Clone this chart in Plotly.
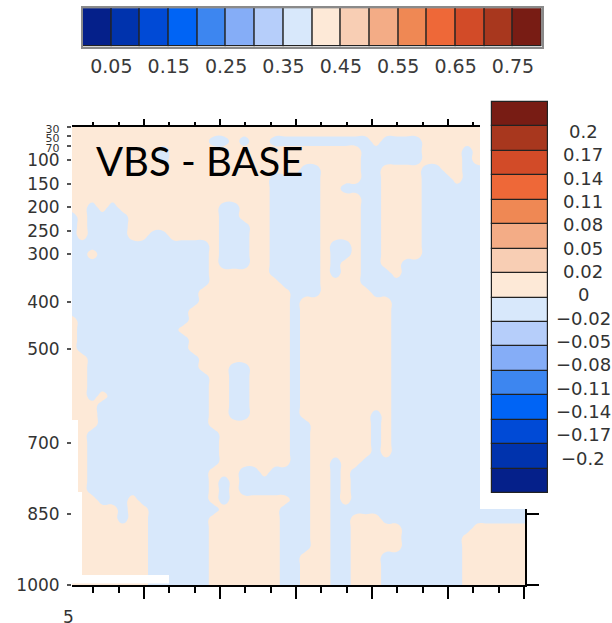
import numpy as np
import plotly.graph_objects as go

# Time axis of the cross-section (days) and pressure levels (hPa)
days = np.round(-2.84 + 0.4 * np.arange(46), 2)
pressure = [30] + list(range(40, 1001, 20))

# Sign of the VBS - BASE difference on each pressure level (top to bottom),
# run-length coded: "14+ 2-" = 14 positive columns then 2 negative ones.
sign_rows = [
    "46+",
    "46+",
    "14+ 2- 1+ 1- 2+ 10- 1+ 4- 11+",
    "9+ 1- 19+ 6- 4+ 1- 6+",
    "9+ 1- 19+ 6- 4+ 1- 6+",
    "23+ 2- 4+ 2- 4+ 2- 2+ 7-",
    "20+ 5- 4+ 2- 4+ 3- 1+ 7-",
    "20+ 5- 2+ 4- 4+ 11-",
    "20+ 5- 4+ 2- 4+ 11-",
    "2+ 1- 1+ 1- 10+ 2- 3+ 5- 4+ 2- 4+ 11-",
    "1- 1+ 4- 9+ 2- 3+ 5- 4+ 2- 4+ 11-",
    "1- 1+ 4- 9+ 3- 2+ 5- 4+ 2- 4+ 11-",
    "1- 1+ 4- 2+ 2- 5+ 3- 2+ 5- 4+ 2- 4+ 11-",
    "14- 1+ 3- 2+ 5- 1+ 2- 1+ 2- 4+ 11-",
    "2- 1+ 11- 1+ 3- 2+ 5- 1+ 2- 1+ 2- 4+ 11-",
    "14- 1+ 3- 2+ 5- 1+ 1- 2+ 2- 2+ 13-",
    "14- 6+ 5- 1+ 1- 2+ 3- 1+ 13-",
    "14- 7+ 4- 4+ 17-",
    "13- 9+ 3- 5+ 16-",
    "13- 9+ 1- 9+ 14-",
    "12- 10+ 1- 9+ 14-",
    "1+ 11- 10+ 1- 9+ 14-",
    "1+ 10- 11+ 1- 9+ 14-",
    "1+ 11- 10+ 1- 9+ 14-",
    "1+ 11- 10+ 1- 9+ 14-",
    "2+ 11- 9+ 1- 9+ 14-",
    "2+ 11- 3+ 2- 4+ 1- 9+ 14-",
    "2+ 12- 2+ 2- 4+ 1- 9+ 14-",
    "2+ 12- 2+ 2- 4+ 1- 9+ 14-",
    "2+ 1- 1+ 10- 2+ 2- 4+ 1- 9+ 14-",
    "3+ 11- 2+ 2- 4+ 1- 9+ 14-",
    "3+ 11- 2+ 2- 4+ 1- 7+ 1- 1+ 14-",
    "3+ 11- 8+ 2- 6+ 1- 1+ 14-",
    "2+ 13- 7+ 2- 6+ 1- 1+ 14-",
    "2+ 13- 7+ 2- 6+ 1- 1+ 14-",
    "2+ 13- 7+ 2- 6+ 1- 1+ 14-",
    "2+ 13- 7+ 2- 2+ 1- 2+ 17-",
    "2+ 12- 3+ 2- 1+ 4- 2+ 1- 1+ 18-",
    "2+ 12- 1+ 1- 1+ 7- 2+ 1- 1+ 18-",
    "2+ 12- 1+ 1- 1+ 7- 2+ 1- 1+ 18-",
    "3+ 3- 1+ 7- 1+ 1- 6+ 2- 2+ 1- 1+ 18-",
    "5+ 1- 2+ 7- 6+ 3- 2+ 20-",
    "5+ 1- 2+ 6- 7+ 3- 2+ 2- 3+ 15-",
    "8+ 6- 7+ 3- 2+ 2- 5+ 7- 6+",
    "8+ 6- 7+ 3- 2+ 2- 5+ 6- 7+",
    "8+ 6- 7+ 3- 2+ 2- 5+ 6- 7+",
    "8+ 6- 7+ 2- 3+ 2- 3+ 8- 7+",
    "8+ 6- 7+ 2- 3+ 2- 3+ 8- 7+",
    "8+ 6- 7+ 2- 3+ 2- 3+ 8- 7+",
    "8+ 6- 7+ 2- 3+ 2- 3+ 8- 7+",
]
diff_magnitude = 0.01


def expand(row):
    vals = []
    for tok in row.split():
        n, s = int(tok[:-1]), tok[-1]
        vals += [diff_magnitude if s == "+" else -diff_magnitude] * n
    assert len(vals) == len(days), row
    return vals


diff = np.array([expand(r) for r in sign_rows])
assert diff.shape[0] == len(pressure)

# 16-colour blue-white-red palette (low to high)
palette = ["#05208a", "#0033ad", "#004ad6", "#0064f5", "#3d86f0", "#85adf7",
           "#b6cefa", "#d8e8fb", "#fde9d7", "#f8ceb4", "#f3ac86", "#ef8854",
           "#ee6838", "#d24b28", "#a8371e", "#781c14"]

# Horizontal colour bar (absolute field)
top_edges = [0.0, 0.05, 0.10, 0.15, 0.20, 0.25, 0.30, 0.35, 0.40,
             0.45, 0.50, 0.55, 0.60, 0.65, 0.70, 0.75, 0.80]
top_ticks = [0.05, 0.15, 0.25, 0.35, 0.45, 0.55, 0.65, 0.75]

# Vertical colour bar (difference field), labels from top to bottom
diff_labels = ["0.2", "0.17", "0.14", "0.11", "0.08", "0.05", "0.02", "0",
               "\u22120.02", "\u22120.05", "\u22120.08", "\u22120.11",
               "\u22120.14", "\u22120.17", "\u22120.2"]

pressure_ticks = [30, 50, 70, 100, 150, 200, 250, 300, 400, 500, 700, 850, 1000]
crowded_ticks = {30, 50, 70}
pressure_text = [f"<span style='font-size:11px'>{p}</span>" if p in crowded_ticks
                 else str(p) for p in pressure_ticks]

W, H = 612, 623


def px_x(v):
    return v / W


def px_y(v):
    return (H - v) / H


fig = go.Figure()

fig.add_trace(go.Contour(
    x=days, y=pressure, z=diff,
    zmin=-0.02, zmax=0.02,
    colorscale=[[0, palette[7]], [0.5, palette[7]], [0.5, palette[8]], [1, palette[8]]],
    contours=dict(start=0, end=0, size=0.01, coloring="fill", showlines=False),
    line=dict(width=0, smoothing=1.3),
    showscale=False, hoverinfo="skip",
))

# overlay axes carrying the top and right tick marks
fig.add_trace(go.Scatter(x=[], y=[], xaxis="x4", yaxis="y", showlegend=False))
fig.add_trace(go.Scatter(x=[], y=[], xaxis="x", yaxis="y4", showlegend=False))

# vertical colour bar as stacked boxes
fig.add_trace(go.Bar(
    x=[0.5] * 16, y=[1] * 16, base=list(range(16)), width=1,
    marker=dict(color=palette, line=dict(color="#222222", width=1.2)),
    xaxis="x2", yaxis="y2", hoverinfo="skip", showlegend=False,
))

# horizontal colour bar
fig.add_trace(go.Bar(
    y=[0] * 16, x=[top_edges[i + 1] - top_edges[i] for i in range(16)],
    base=top_edges[:-1], width=1, orientation="h",
    marker=dict(color=palette, line=dict(color="#222222", width=1.2)),
    xaxis="x3", yaxis="y3", hoverinfo="skip", showlegend=False,
))

label_font = dict(family="DejaVu Sans", size=17, color="#333333")

fig.update_layout(
    width=W, height=H, margin=dict(l=0, r=0, t=0, b=0, autoexpand=False),
    paper_bgcolor="white", plot_bgcolor="white", showlegend=False, bargap=0,
    xaxis=dict(domain=[px_x(72), px_x(525)], anchor="y", range=[-2.84, 15.04],
               tick0=0, dtick=3, ticks="outside", ticklen=12, tickwidth=2,
               tickcolor="black", showticklabels=False, showline=True,
               linewidth=2, linecolor="black", showgrid=False, zeroline=False,
               automargin=False,
               minor=dict(tick0=0, dtick=1, ticks="outside", ticklen=6,
                          tickwidth=1.5, tickcolor="black", showgrid=False)),
    xaxis4=dict(overlaying="x", side="top", anchor="y", range=[-2.84, 15.04],
                tick0=0, dtick=3, ticks="outside", ticklen=6, tickwidth=2,
                tickcolor="black", showticklabels=False, showline=True,
                linewidth=2, linecolor="black", showgrid=False, zeroline=False,
                automargin=False,
                minor=dict(tick0=0, dtick=1, ticks="outside", ticklen=3,
                           tickwidth=1.5, tickcolor="black", showgrid=False)),
    yaxis=dict(domain=[px_y(585), px_y(127)], anchor="x", range=[1000, 30],
               tickvals=pressure_ticks, ticktext=pressure_text,
               ticks="outside", ticklen=4, tickwidth=2, tickcolor="#555555",
               tickfont=label_font, ticklabelstandoff=4, automargin=False,
               showline=False, showgrid=False, zeroline=False),
    yaxis4=dict(overlaying="y", side="right", anchor="x", range=[1000, 30],
                tickvals=pressure_ticks, ticks="outside", ticklen=12, tickwidth=2,
                tickcolor="black", showticklabels=False, showline=True,
                linewidth=2, linecolor="black", showgrid=False, zeroline=False,
                automargin=False),
    xaxis2=dict(domain=[px_x(480), 1.0], anchor="y2", automargin=False,
                range=[-12 / 56, -12 / 56 + 132 / 56], visible=False),
    yaxis2=dict(domain=[px_y(509), px_y(88)], anchor="x2", automargin=False,
                range=[(493.3 - 509) / 24.47, (493.3 - 88) / 24.47], visible=False),
    xaxis3=dict(domain=[px_x(82.7), px_x(541.7)], anchor="y3", range=[0, 0.8],
                tickvals=top_ticks, ticktext=[f"{t:.2f}" for t in top_ticks],
                ticks="", tickfont=dict(family="DejaVu Sans", size=19, color="#3a3a3a"),
                ticklabelstandoff=2, showline=True, mirror=True, automargin=False,
                linecolor="#8a8a8a", linewidth=1.5, showgrid=False, zeroline=False),
    yaxis3=dict(domain=[px_y(46.7), px_y(8.3)], anchor="x3", range=[-0.5, 0.5],
                showticklabels=False, ticks="", showline=True, mirror=True,
                automargin=False,
                linecolor="#8a8a8a", linewidth=1.5, showgrid=False, zeroline=False),
)

annotations = [
    dict(text="VBS - BASE", x=px_x(94), y=px_y(161), xref="paper", yref="paper",
         xanchor="left", yanchor="middle", showarrow=False,
         font=dict(family="Lato", size=40, color="black")),
    dict(text="5", x=px_x(68), y=px_y(617), xref="paper", yref="paper",
         xanchor="center", yanchor="middle", showarrow=False, font=label_font),
]
for k, lab in enumerate(diff_labels):
    annotations.append(dict(
        text=lab, x=(583 - 492) / 56, y=14.78 - 0.9534 * k, xref="x2", yref="y2",
        xanchor="center", yanchor="middle", showarrow=False,
        font=dict(family="DejaVu Sans", size=18, color="#333333")))
fig.update_layout(annotations=annotations)

# white patches over the lower-left corner of the panel
for x0, y0, x1, y1 in [(72, 575, 169, 583.5), (72, 492, 82, 575), (72, 420, 78, 492)]:
    fig.add_shape(type="rect", xref="paper", yref="paper",
                  x0=px_x(x0), x1=px_x(x1), y0=px_y(y1), y1=px_y(y0),
                  fillcolor="white", line=dict(width=0), layer="above")

fig.write_html("out.html")
